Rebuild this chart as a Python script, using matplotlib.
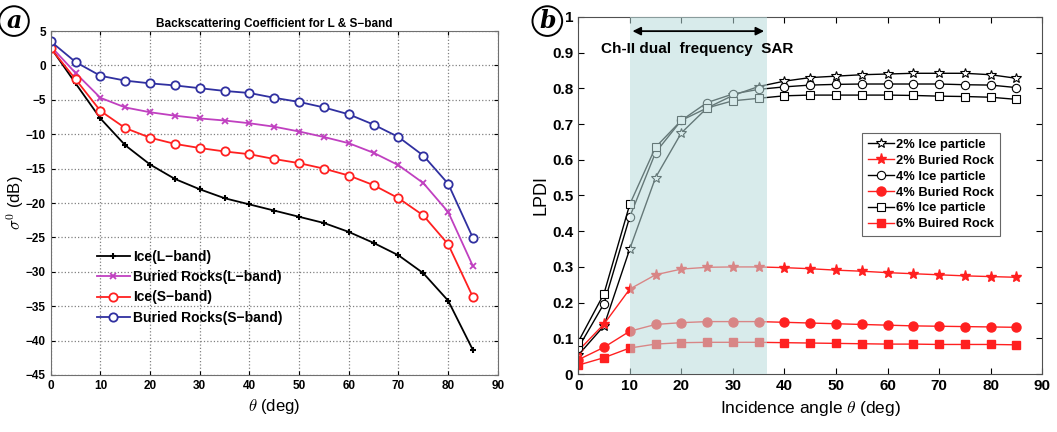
import matplotlib
matplotlib.use('Agg')
import matplotlib.pyplot as plt
import numpy as np

# panel (a) data
theta_a = [0, 5, 10, 15, 20, 25, 30, 35, 40, 45, 50, 55, 60, 65, 70, 75, 80, 85]
ice_l = [2.6, -2.6, -7.7, -11.6, -14.4, -16.5, -18.0, -19.3, -20.2, -21.1, -22.0, -22.9,
         -24.2, -25.8, -27.6, -30.2, -34.2, -41.4]
rock_l = [2.8, -1.1, -4.7, -6.1, -6.8, -7.3, -7.7, -8.0, -8.4, -8.9, -9.6, -10.4,
          -11.3, -12.7, -14.5, -17.1, -21.3, -29.2]
ice_s = [2.5, -2.0, -6.6, -9.1, -10.5, -11.4, -12.0, -12.5, -12.9, -13.6, -14.2, -15.0,
         -16.0, -17.4, -19.3, -21.8, -26.0, -33.7]
rock_s = [3.5, 0.5, -1.5, -2.2, -2.6, -2.9, -3.3, -3.7, -4.0, -4.7, -5.3, -6.1,
          -7.1, -8.6, -10.4, -13.1, -17.2, -25.1]

# panel (b) data
theta_b = [0, 5, 10, 15, 20, 25, 30, 35, 40, 45, 50, 55, 60, 65, 70, 75, 80, 85]
ice2 = [0.053, 0.135, 0.35, 0.55, 0.675, 0.745, 0.78, 0.805, 0.82, 0.83, 0.834, 0.838,
        0.84, 0.842, 0.842, 0.842, 0.838, 0.828]
rock2 = [0.065, 0.14, 0.238, 0.278, 0.294, 0.299, 0.30, 0.30, 0.298, 0.295, 0.291, 0.288,
         0.284, 0.281, 0.278, 0.275, 0.273, 0.271]
ice4 = [0.073, 0.197, 0.44, 0.62, 0.71, 0.76, 0.784, 0.797, 0.804, 0.809, 0.811, 0.812,
        0.812, 0.812, 0.812, 0.81, 0.809, 0.802]
rock4 = [0.04, 0.075, 0.12, 0.139, 0.144, 0.147, 0.147, 0.147, 0.145, 0.143, 0.141, 0.139,
         0.137, 0.135, 0.134, 0.133, 0.132, 0.131]
ice6 = [0.09, 0.225, 0.475, 0.635, 0.71, 0.745, 0.765, 0.772, 0.779, 0.781, 0.781, 0.781,
        0.781, 0.78, 0.778, 0.777, 0.775, 0.769]
rock6 = [0.025, 0.046, 0.073, 0.084, 0.088, 0.089, 0.089, 0.089, 0.088, 0.087, 0.086, 0.085,
         0.084, 0.084, 0.083, 0.083, 0.083, 0.082]

sar_band = (10, 36.6)

plt.rcParams['font.family'] = ['Liberation Sans', 'DejaVu Sans']
plt.rcParams['mathtext.fontset'] = 'cm'

fig = plt.figure(figsize=(10.57, 4.32), dpi=100)

# ---------- panel a ----------
ax1 = fig.add_axes([0.048, 0.132, 0.423, 0.796])
ax1.plot(theta_a, ice_l, '-+', color='black', lw=1.3, ms=5, mew=1.5, label='Ice(L\u2212band)')
ax1.plot(theta_a, rock_l, '-x', color='#c040c0', lw=1.3, ms=5, mew=1.3, label='Buried Rocks(L\u2212band)')
ax1.plot(theta_a, ice_s, '-o', color='#ff2020', lw=1.3, ms=6, mfc='white', mew=1.3, label='Ice(S\u2212band)')
ax1.plot(theta_a, rock_s, '-o', color='#3030a0', lw=1.3, ms=6, mfc='white', mew=1.3, label='Buried Rocks(S\u2212band)')
ax1.set_xlim(0, 90)
ax1.set_ylim(-45, 5)
ax1.set_xticks(np.arange(0, 91, 10))
ax1.set_yticks(np.arange(-45, 6, 5))
ax1.set_yticklabels([str(v).replace('-', '\u2212') for v in range(-45, 6, 5)])
ax1.grid(True, ls=':', color='#808080', lw=0.9)
ax1.tick_params(direction='in', labelsize=8.5, length=3, top=True, right=True)
for lab in ax1.get_xticklabels() + ax1.get_yticklabels():
    lab.set_fontweight('bold')
for sp in ax1.spines.values():
    sp.set_color('#707070')
ax1.set_title('Backscattering Coefficient for L & S\u2212band', fontsize=8.5, fontweight='bold', pad=3)
ax1.set_xlabel(r'$\theta$ (deg)', fontsize=12, labelpad=4)
ax1.set_ylabel(r'$\sigma^0$ (dB)', fontsize=12, labelpad=0)
ax1.legend(loc='lower left', bbox_to_anchor=(0.09, 0.13), frameon=False,
           prop={'weight': 'bold', 'size': 10}, handlelength=2.4, labelspacing=0.45,
           handletextpad=0.2, borderaxespad=0)
fig.text(0.006, 0.935, 'a', fontsize=17, fontweight='bold', style='italic', family='DejaVu Serif',
         bbox=dict(boxstyle='circle,pad=0.12', fc='white', ec='black', lw=1.4))

# ---------- panel b ----------
ax2 = fig.add_axes([0.547, 0.134, 0.439, 0.827])
ax2.plot(theta_b, ice2, '-*', color='black', lw=1, ms=7, mfc='white', mew=0.8, label='2% Ice particle')
ax2.plot(theta_b, rock2, '-*', color='#ff2020', lw=1, ms=8, label='2% Buried Rock')
ax2.plot(theta_b, ice4, '-o', color='black', lw=1, ms=6, mfc='white', mew=0.8, label='4% Ice particle')
ax2.plot(theta_b, rock4, '-o', color='#ff2020', lw=1, ms=6.5, label='4% Buried Rock')
ax2.plot(theta_b, ice6, '-s', color='black', lw=1, ms=6, mfc='white', mew=0.8, label='6% Ice particle')
ax2.plot(theta_b, rock6, '-s', color='#ff2020', lw=1, ms=6, label='6% Buired Rock')
ax2.axvspan(sar_band[0], sar_band[1], color='#b9dcdc', alpha=0.55, lw=0, zorder=5)
ax2.annotate('', xy=(sar_band[1], 0.96), xytext=(sar_band[0], 0.96),
             arrowprops=dict(arrowstyle='<|-|>', color='black', lw=1.3, mutation_scale=12), zorder=6)
ax2.text(23, 0.91, 'Ch-II dual  frequency  SAR', fontsize=11, fontweight='bold', ha='center',
         va='center', zorder=6)
ax2.set_xlim(0, 90)
ax2.set_ylim(0, 1)
ax2.set_xticks(np.arange(0, 91, 10))
ax2.set_yticks(np.arange(0, 1.01, 0.1))
ax2.set_yticklabels(['0'] + ['%.1f' % v for v in np.arange(0.1, 1.01, 0.1)[:-1]] + ['1'])
ax2.tick_params(direction='in', labelsize=11, length=4, top=True, right=True)
for lab in ax2.get_xticklabels() + ax2.get_yticklabels():
    lab.set_fontweight('bold')
for sp in ax2.spines.values():
    sp.set_color('#505050')
ax2.set_xlabel(r'Incidence angle $\theta$ (deg)', fontsize=12.5, labelpad=4)
ax2.set_ylabel('LPDI', fontsize=13, labelpad=2)
leg = ax2.legend(loc='upper right', bbox_to_anchor=(0.909, 0.675), borderaxespad=0,
                 prop={'weight': 'bold', 'size': 9.3}, fancybox=False, edgecolor='#404040',
                 handlelength=2.0, labelspacing=0.3, handletextpad=0.2, borderpad=0.45)
leg.get_frame().set_linewidth(0.8)
leg.set_zorder(10)
fig.text(0.510, 0.935, 'b', fontsize=17, fontweight='bold', style='italic', family='DejaVu Serif',
         bbox=dict(boxstyle='circle,pad=0.12', fc='white', ec='black', lw=1.4))

fig.savefig('out.png', dpi=100)
